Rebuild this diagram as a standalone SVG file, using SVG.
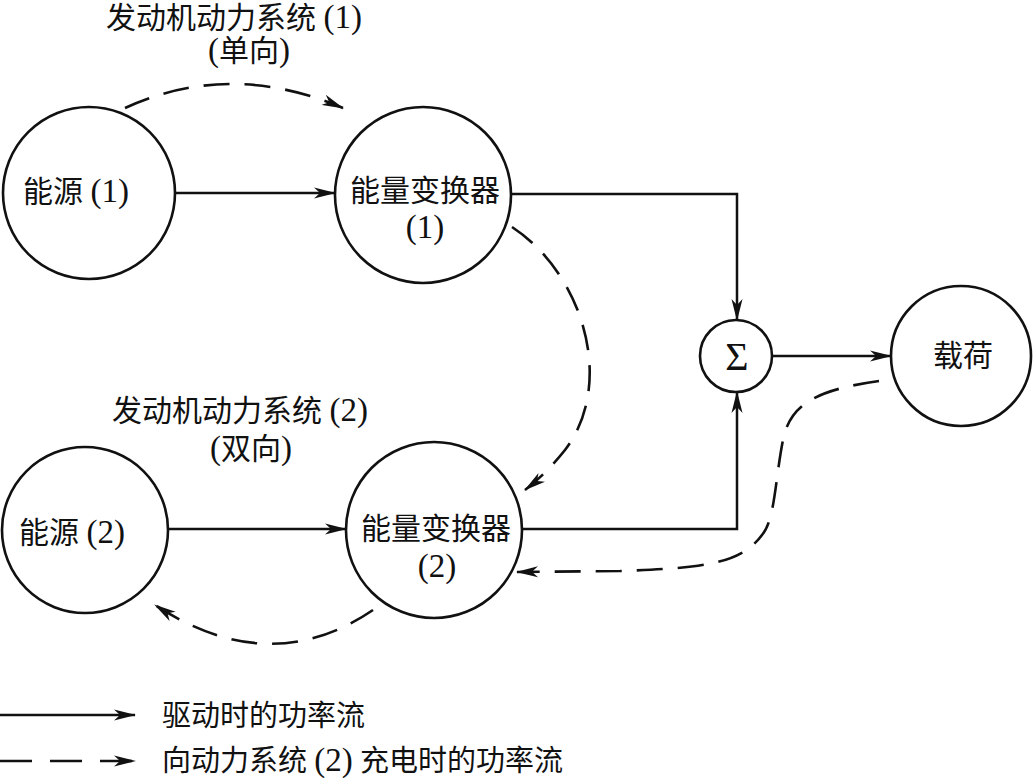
<svg xmlns="http://www.w3.org/2000/svg" width="1033" height="781" viewBox="0 0 1033 781">
<style>
.node{fill:none;stroke:#111;stroke-width:2.6}
.ln{fill:none;stroke:#111;stroke-width:2.5}
.dash{fill:none;stroke:#111;stroke-width:2.6;stroke-dasharray:26 15}
.t{font-family:"Liberation Serif","Noto Sans CJK SC",serif;font-size:30px;fill:#111}
.lg{font-family:"Liberation Serif","Noto Sans CJK SC",serif;font-size:29px;fill:#111}
.n{font-size:33px}
</style>
<defs>
<marker id="ah" viewBox="0 0 22 12" refX="21" refY="6" markerWidth="22" markerHeight="12" markerUnits="userSpaceOnUse" orient="auto">
<path d="M0,0.5 L22,6 L0,11.5 L6,6 Z" fill="#111"/>
</marker>
</defs>
<rect width="1033" height="781" fill="#fff"/>

<g id="label-system1">
<text class="t" x="234" y="28" text-anchor="middle">发动机动力系统 <tspan class="n">(1)</tspan></text>
<text class="t" x="249" y="61" text-anchor="middle"><tspan class="n">(</tspan>单向<tspan class="n">)</tspan></text>
</g>
<g id="label-system2">
<text class="t" x="240" y="421" text-anchor="middle">发动机动力系统 <tspan class="n">(2)</tspan></text>
<text class="t" x="251" y="459" text-anchor="middle"><tspan class="n">(</tspan>双向<tspan class="n">)</tspan></text>
</g>

<g id="source1">
<circle class="node" cx="89" cy="193" r="86"/>
<text class="t" x="23" y="202">能源 <tspan class="n">(1)</tspan></text>
</g>
<g id="converter1">
<circle class="node" cx="423" cy="195" r="88"/>
<text class="t" x="425" y="201" text-anchor="middle">能量变换器</text>
<text class="t n" x="425" y="238" text-anchor="middle">(1)</text>
</g>
<g id="sum">
<circle class="node" cx="736" cy="356" r="36"/>
<text class="t" x="737" y="370" text-anchor="middle" style="font-size:40px">Σ</text>
</g>
<g id="load">
<circle class="node" cx="961" cy="356" r="70"/>
<text class="t" x="963" y="366" text-anchor="middle">载荷</text>
</g>
<g id="source2">
<circle class="node" cx="85" cy="530" r="83"/>
<text class="t" x="19" y="543">能源 <tspan class="n">(2)</tspan></text>
</g>
<g id="converter2">
<circle class="node" cx="434" cy="530" r="88"/>
<text class="t" x="436" y="539" text-anchor="middle">能量变换器</text>
<text class="t n" x="437" y="577" text-anchor="middle">(2)</text>
</g>

<g id="connectors">
<path class="ln" d="M175,193 L335,193" marker-end="url(#ah)"/>
<path class="ln" d="M511,194 L737,194 L737,320" marker-end="url(#ah)"/>
<path class="ln" d="M772,356 L891,356" marker-end="url(#ah)"/>
<path class="ln" d="M168,529 L346,529" marker-end="url(#ah)"/>
<path class="ln" d="M522,529 L737,529 L737,392" marker-end="url(#ah)"/>
<path class="dash" d="M125,108 Q230,60 343,108" marker-end="url(#ah)"/>
<path class="dash" d="M512,227 C585,275 615,385 565,450 Q545,475 525,490" marker-end="url(#ah)"/>
<path class="dash" d="M879,381 C815,390 790,405 783,440 C775,480 775,520 762,535 C740,565 700,568 620,571 L517,572" marker-end="url(#ah)"/>
<path class="dash" d="M373,610 Q270,680 155,605" marker-end="url(#ah)"/>
</g>

<g id="legend">
<path class="ln" d="M0,715 L135,715" marker-end="url(#ah)"/>
<path class="ln" d="M0,761 L135,761" style="stroke-dasharray:32 18" marker-end="url(#ah)"/>
<text class="lg" x="162" y="726">驱动时的功率流</text>
<text class="lg" x="162" y="771">向动力系统 <tspan style="font-size:33px">(2)</tspan> 充电时的功率流</text>
</g>
</svg>
